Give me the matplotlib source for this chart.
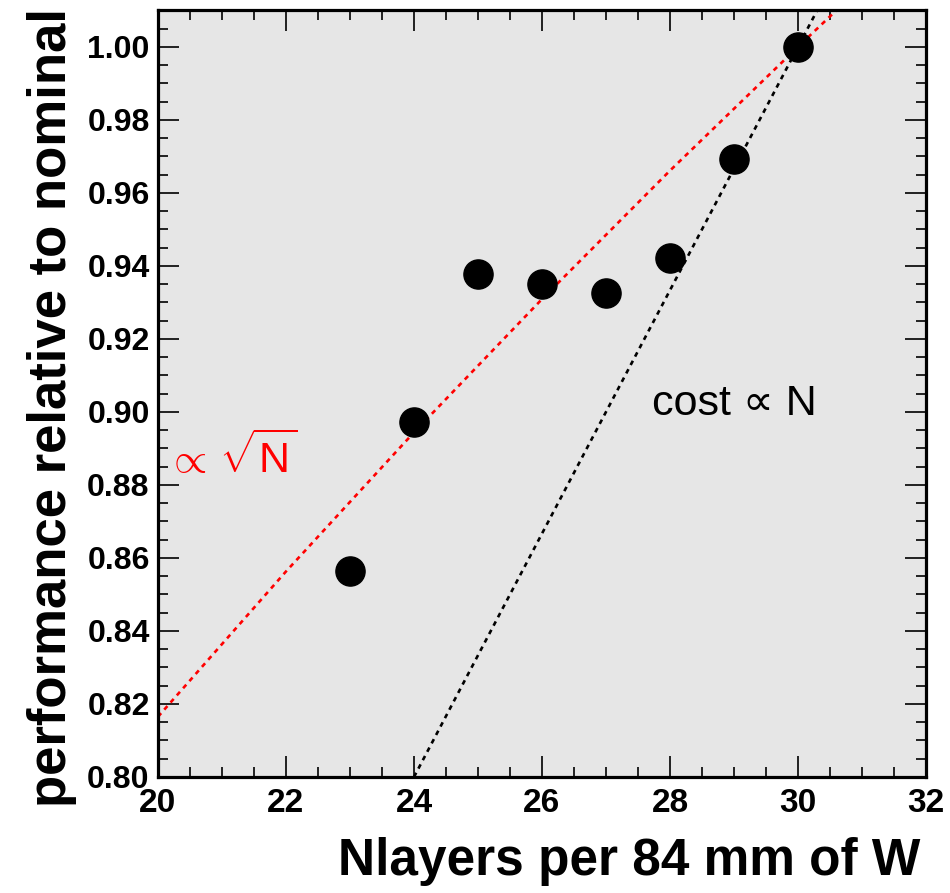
import matplotlib
matplotlib.use('Agg')
import matplotlib.pyplot as plt
from matplotlib.ticker import MultipleLocator

plt.rcParams['font.family'] = ['Liberation Sans', 'DejaVu Sans']
plt.rcParams['mathtext.fontset'] = 'custom'
plt.rcParams['mathtext.rm'] = 'Liberation Sans'
plt.rcParams['mathtext.it'] = 'Liberation Sans:italic'
plt.rcParams['mathtext.bf'] = 'Liberation Sans:bold'

# measured points
nlayers = [23, 24, 25, 26, 27, 28, 29, 30]
perf = [0.8564, 0.8973, 0.9378, 0.9351, 0.9326, 0.9422, 0.9693, 1.0000]

# reference curves
sqrt_x = [20.0, 22.0, 24.0, 26.0, 28.0, 30.0, 30.6]
sqrt_y = [0.8165, 0.8563, 0.8944, 0.9309, 0.9661, 1.0000, 1.0100]
lin_x = [24.0, 30.3]
lin_y = [0.800, 1.010]

fig = plt.figure(figsize=(9.5, 8.93), dpi=100)
ax = fig.add_axes([0.1663, 0.1299, 0.8084, 0.8589])
ax.set_facecolor('#e6e6e6')

ax.plot(sqrt_x, sqrt_y, color='red', lw=1.9, ls=(0, (1.8, 1.8)))
ax.plot(lin_x, lin_y, color='black', lw=1.9, ls=(0, (1.8, 1.8)))
ax.plot(nlayers, perf, 'o', color='black', ms=21, zorder=5)

ax.set_xlim(20, 32)
ax.set_ylim(0.80, 1.0101)
ax.xaxis.set_major_locator(MultipleLocator(2))
ax.xaxis.set_minor_locator(MultipleLocator(0.5))
ax.yaxis.set_major_locator(MultipleLocator(0.02))
ax.yaxis.set_minor_locator(MultipleLocator(0.005))
ax.yaxis.set_major_formatter(plt.FormatStrFormatter('%.2f'))

ax.tick_params(which='both', direction='in', top=True, right=True, width=1.2)
ax.tick_params(which='major', length=15)
ax.tick_params(which='minor', length=7.5)
ax.tick_params(axis='x', which='major', labelsize=24, pad=8)
ax.tick_params(axis='y', which='major', labelsize=23, pad=6)
for lab in ax.get_xticklabels() + ax.get_yticklabels():
    lab.set_fontweight('bold')
for sp in ax.spines.values():
    sp.set_linewidth(2.3)

ax.text(27.72, 0.8992, 'cost \u221d N', fontsize=31, color='black')
ax.text(20.12, 0.8833, r'$\propto\,\sqrt{\mathrm{N}}$', fontsize=31, color='red')

fig.text(920 / 950, 1 - 862 / 893, 'Nlayers per 84 mm of W', fontsize=37,
         fontweight='bold', ha='right', va='center')
fig.text(52 / 950, 1 - 8 / 893, 'performance relative to nominal', fontsize=38,
         fontweight='bold', rotation=90, ha='center', va='top')

fig.savefig('out.png', dpi=100)
